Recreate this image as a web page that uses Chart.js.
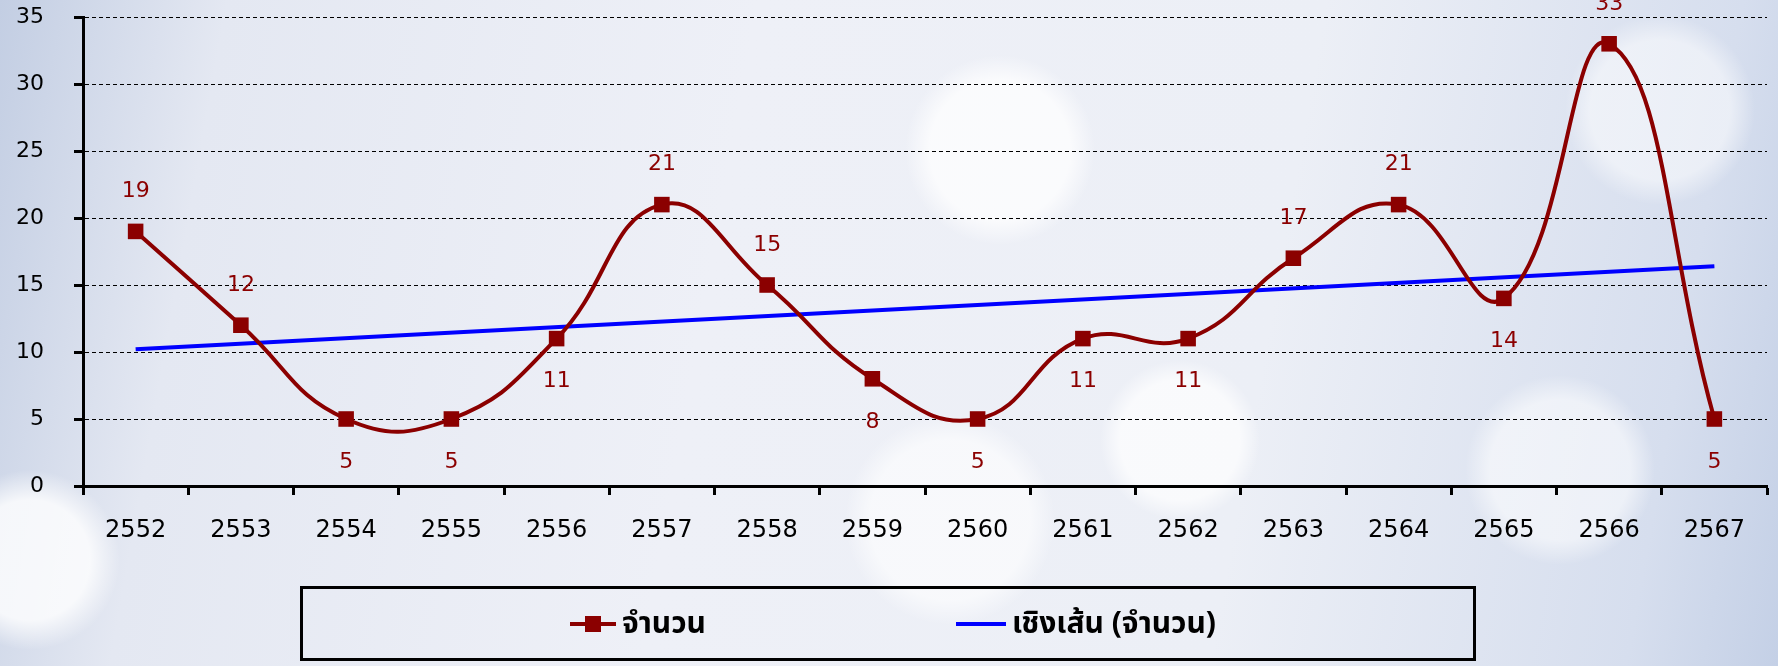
<!DOCTYPE html>
<html lang="th">
<head>
<meta charset="utf-8">
<script src="https://cdn.jsdelivr.net/npm/chart.js@4.4.1/dist/chart.umd.min.js"></script>
<style>
    html, body { margin: 0; padding: 0; }
    #wrap {
        position: relative;
        width: 1778px;
        height: 666px;
        overflow: hidden;
        background:
            radial-gradient(circle at 1000px 150px, rgba(255,255,255,0.75) 0, rgba(255,255,255,0.75) 70px, rgba(255,255,255,0) 95px),
            radial-gradient(circle at 1180px 440px, rgba(255,255,255,0.7) 0, rgba(255,255,255,0.7) 60px, rgba(255,255,255,0) 80px),
            radial-gradient(circle at 950px 520px, rgba(255,255,255,0.6) 0, rgba(255,255,255,0.6) 80px, rgba(255,255,255,0) 105px),
            radial-gradient(circle at 1560px 470px, rgba(255,255,255,0.55) 0, rgba(255,255,255,0.55) 70px, rgba(255,255,255,0) 95px),
            radial-gradient(circle at 30px 560px, rgba(255,255,255,0.8) 0, rgba(255,255,255,0.8) 60px, rgba(255,255,255,0) 90px),
            radial-gradient(circle at 1660px 110px, rgba(255,255,255,0.5) 0, rgba(255,255,255,0.5) 70px, rgba(255,255,255,0) 95px),
            linear-gradient(100deg, #c3cee3 0%, #e4e8f2 12%, #eef0f7 40%, #eceff6 70%, #d6deee 92%, #c4d0e6 100%);
    }
    #chart { position: absolute; left: 0; top: 0; }
    #legend {
        position: absolute;
        left: 300px;
        top: 586px;
        width: 1160px;
        height: 69px;
        border: 3px solid #000;
        display: flex;
        align-items: center;
        justify-content: center;
        gap: 250px;
        font-family: "Noto Sans Thai", "Loma", "Garuda", "Tlwg Typo", "Noto Sans", sans-serif;
        font-weight: bold;
        font-size: 30px;
        color: #000;
        padding-left: 10px;
        box-sizing: content-box;
    }
    .item { display: flex; align-items: center; }
    .mark { position: relative; width: 46px; height: 20px; margin-right: 6px; }
    .mark .ln { position: absolute; left: 0; right: 0; top: 8px; height: 4px; }
    .mark .sq { position: absolute; left: 15px; top: 2px; width: 16px; height: 16px; }
</style>
</head>
<body>
<div id="wrap">
    <canvas id="chart" width="1778" height="666"></canvas>
    <div id="legend"></div>
</div>
<script>
// ข้อมูลกราฟ
const years = ['2552', '2553', '2554', '2555', '2556', '2557', '2558', '2559',
               '2560', '2561', '2562', '2563', '2564', '2565', '2566', '2567'];
const counts = [19, 12, 5, 5, 11, 21, 15, 8, 5, 11, 11, 17, 21, 14, 33, 5];
// เส้นแนวโน้ม: อ่านค่าปลายทั้งสองข้างจากภาพ
const trend = [10.2, null, null, null, null, null, null, null,
               null, null, null, null, null, null, null, 16.4];
const yTicks = [0, 5, 10, 15, 20, 25, 30, 35];
const seriesNames = ['จำนวน', 'เชิงเส้น (จำนวน)'];
// ตำแหน่งป้ายค่า: บน / ล่าง
const labelSide = ['up', 'up', 'down', 'down', 'down', 'up', 'up', 'down',
                   'down', 'down', 'down', 'up', 'up', 'down', 'up', 'down'];

const darkRed = '#8b0000';
const blue = '#0000ff';

// ปลั๊กอินวาดป้ายค่า
const valueLabels = {
    id: 'valueLabels',
    afterDatasetsDraw(chart) {
        const meta = chart.getDatasetMeta(0);
        const ctx = chart.ctx;
        ctx.save();
        ctx.font = '22px "DejaVu Sans"';
        ctx.fillStyle = darkRed;
        ctx.textAlign = 'center';
        ctx.textBaseline = 'middle';
        meta.data.forEach((pt, i) => {
            const dy = labelSide[i] === 'up' ? -40 : 43;
            ctx.fillText(String(counts[i]), pt.x, pt.y + dy);
        });
        ctx.restore();
    }
};

const ctx = document.getElementById('chart').getContext('2d');
const chart = new Chart(ctx, {
    type: 'line',
    data: {
        labels: years,
        datasets: [
            {
                label: seriesNames[0],
                data: counts,
                borderColor: darkRed,
                backgroundColor: darkRed,
                borderWidth: 4,
                tension: 0.45,
                pointStyle: 'rect',
                pointRadius: 11,
                pointBorderWidth: 0,
                order: 1
            },
            {
                label: seriesNames[1],
                data: trend,
                borderColor: blue,
                backgroundColor: blue,
                borderWidth: 4,
                tension: 0,
                spanGaps: true,
                pointRadius: 0,
                order: 2
            }
        ]
    },
    options: {
        responsive: false,
        animation: false,
        layout: { padding: { top: 17, right: 11, left: 0, bottom: 0 } },
        plugins: {
            legend: { display: false },
            tooltip: { enabled: false }
        },
        scales: {
            x: {
                offset: true,
                grid: {
                    drawOnChartArea: false,
                    drawTicks: true,
                    tickLength: 9,
                    tickWidth: 3,
                    tickColor: '#000',
                    offset: true
                },
                border: { display: true, color: '#000', width: 3 },
                ticks: {
                    color: '#000',
                    font: { family: 'DejaVu Sans', size: 24 },
                    padding: 21,
                    maxRotation: 0,
                    autoSkip: false
                },
                afterFit(scale) {
                    scale.height = 180;
                    scale.paddingLeft = 0;
                    scale.paddingRight = 0;
                }
            },
            y: {
                min: 0,
                max: 35,
                afterBuildTicks(scale) { scale.ticks = yTicks.map(v => ({ value: v })); },
                grid: {
                    color: '#000',
                    lineWidth: 1,
                    drawTicks: true,
                    tickLength: 9,
                    tickWidth: 3,
                    tickColor: '#000'
                },
                border: { display: true, color: '#000', width: 3, dash: [4, 3] },
                ticks: {
                    color: '#000',
                    font: { family: 'DejaVu Sans', size: 22 },
                    padding: 30
                },
                afterFit(scale) {
                    scale.width = 83;
                    scale.paddingTop = 0;
                    scale.paddingBottom = 0;
                }
            }
        }
    },
    plugins: [valueLabels]
});

// คำอธิบายสัญลักษณ์
const legendEl = document.getElementById('legend');
chart.data.datasets.forEach((ds, i) => {
    const item = document.createElement('div');
    item.className = 'item';
    const mark = document.createElement('div');
    mark.className = 'mark';
    mark.innerHTML = '<div class="ln" style="background:' + ds.borderColor + '"></div>' +
        (i === 0 ? '<div class="sq" style="background:' + ds.borderColor + '"></div>' : '');
    if (i === 1) mark.style.width = '50px';
    const txt = document.createElement('span');
    txt.textContent = ds.label;
    item.appendChild(mark);
    item.appendChild(txt);
    legendEl.appendChild(item);
});
</script>
</body>
</html>
